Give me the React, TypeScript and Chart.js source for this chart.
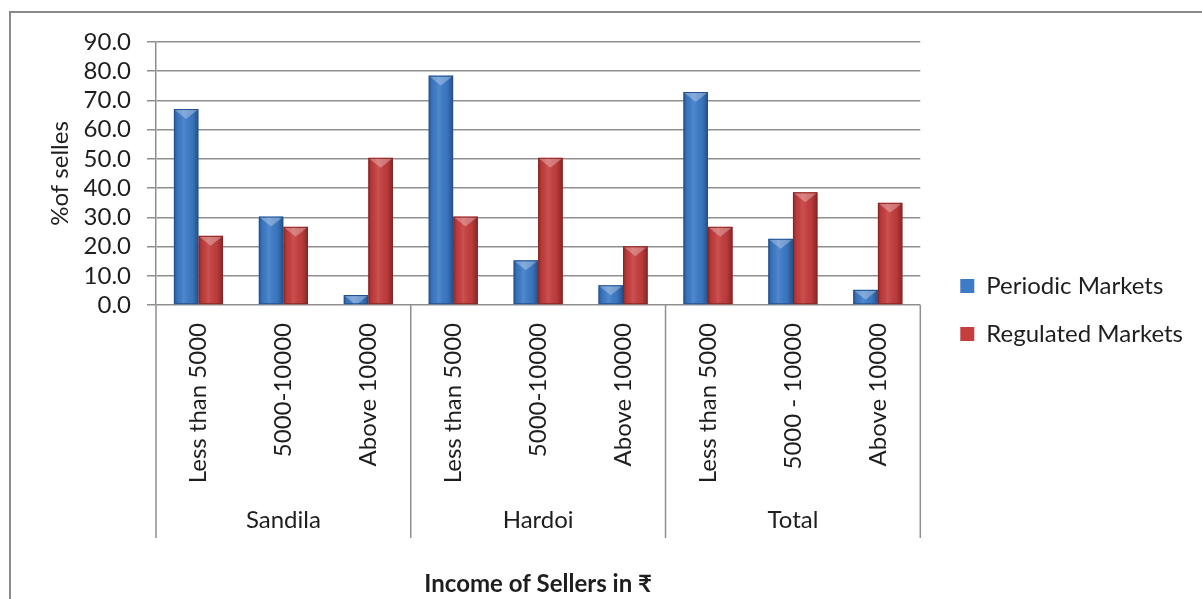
import { useEffect, useRef } from 'react';
import { Chart, registerables } from 'chart.js';

Chart.register(...registerables);

const incomeBands = [
  'Less than 5000', '5000-10000', 'Above 10000',
  'Less than 5000', '5000-10000', 'Above 10000',
  'Less than 5000', '5000 - 10000', 'Above 10000',
];
const regions = ['Sandila', 'Hardoi', 'Total'];
const periodicMarkets = [67.1, 30.3, 3.4, 78.5, 15.3, 6.8, 72.9, 22.7, 5.2];
const regulatedMarkets = [23.7, 26.8, 50.4, 30.3, 50.4, 20.1, 26.8, 38.6, 35.0];
const yMin = 0;
const yMax = 90;
const yStep = 10;

const seriesNames = ['Periodic Markets', 'Regulated Markets'];
const seriesColors = ['#3c7bc8', '#c63d3d'];
const seriesDark = ['#23508c', '#882424'];

const FONT = 'Lato, "Noto Sans", sans-serif';
const FS = 24;
const TEXT = '#1e1e1e';
const GRID = '#8f8f8f';

const framePlugin = {
  id: 'frame',
  beforeDraw(chart: any) {
    const ctx = chart.ctx;
    ctx.save();
    ctx.fillStyle = '#ffffff';
    ctx.fillRect(0, 0, chart.width, chart.height);
    ctx.strokeStyle = '#8a8a8a';
    ctx.lineWidth = 2;
    ctx.strokeRect(10, 12, chart.width + 40, chart.height + 40);
    ctx.restore();
  },
};

const barShadePlugin = {
  id: 'barShade',
  afterDatasetsDraw(chart: any) {
    const ctx = chart.ctx;
    chart.data.datasets.forEach((ds: any, di: number) => {
      const meta = chart.getDatasetMeta(di);
      meta.data.forEach((el: any) => {
        const w = el.width;
        const left = el.x - w / 2;
        const right = el.x + w / 2;
        const top = Math.min(el.y, el.base);
        const bottom = Math.max(el.y, el.base);
        const h = bottom - top;
        if (h <= 0) return;
        ctx.save();
        ctx.beginPath();
        ctx.rect(left, top, w, h);
        ctx.clip();
        const g = ctx.createLinearGradient(left, 0, right, 0);
        g.addColorStop(0, 'rgba(0,0,0,0.30)');
        g.addColorStop(0.15, 'rgba(0,0,0,0.05)');
        g.addColorStop(0.4, 'rgba(255,255,255,0.10)');
        g.addColorStop(0.75, 'rgba(0,0,0,0.05)');
        g.addColorStop(1, 'rgba(0,0,0,0.35)');
        ctx.fillStyle = g;
        ctx.fillRect(left, top, w, h);
        ctx.beginPath();
        ctx.moveTo(left + 1, top + 1);
        ctx.lineTo(right - 1, top + 1);
        ctx.lineTo(el.x, top + 10);
        ctx.closePath();
        ctx.fillStyle = 'rgba(255,255,255,0.30)';
        ctx.fill();
        ctx.strokeStyle = seriesDark[di];
        ctx.lineWidth = 1;
        ctx.strokeRect(left + 0.5, top + 0.5, w - 1, h - 1);
        ctx.restore();
      });
    });
  },
};

const groupDividerPlugin = {
  id: 'groupDividers',
  afterDraw(chart: any) {
    const xs = chart.scales.x;
    const x2 = chart.scales.x2;
    const ctx = chart.ctx;
    const n = incomeBands.length;
    const per = n / regions.length;
    ctx.save();
    ctx.strokeStyle = GRID;
    ctx.lineWidth = 1.5;
    for (let b = 0; b <= n; b += per) {
      let px;
      if (b === 0) px = xs.left;
      else if (b === n) px = xs.right;
      else px = (xs.getPixelForValue(b - 1) + xs.getPixelForValue(b)) / 2;
      ctx.beginPath();
      ctx.moveTo(px, chart.chartArea.bottom);
      ctx.lineTo(px, x2.top + 38);
      ctx.stroke();
    }
    ctx.restore();
  },
};

export default function App() {
  const ref = useRef<HTMLCanvasElement | null>(null);

  useEffect(() => {
    if (!ref.current) return;
    const chart = new Chart(ref.current, {
      type: 'bar',
      data: {
        labels: incomeBands,
        datasets: [
          {
            label: seriesNames[0],
            data: periodicMarkets,
            backgroundColor: seriesColors[0],
            borderWidth: 0,
            categoryPercentage: 0.58,
            barPercentage: 1,
          },
          {
            label: seriesNames[1],
            data: regulatedMarkets,
            backgroundColor: seriesColors[1],
            borderWidth: 0,
            categoryPercentage: 0.58,
            barPercentage: 1,
          },
        ],
      },
      options: {
        responsive: false,
        animation: false,
        layout: { padding: { top: 21, right: 9, bottom: 0, left: 0 } },
        plugins: {
          tooltip: { enabled: false },
          legend: {
            position: 'right',
            align: 'center',
            labels: {
              font: { family: FONT, size: FS },
              color: TEXT,
              boxWidth: 14,
              boxHeight: 14,
              padding: 24,
            },
          },
        },
        scales: {
          x: {
            type: 'category',
            position: 'bottom',
            weight: 0,
            offset: true,
            grid: { display: false, drawTicks: false },
            border: { display: false },
            ticks: {
              font: { family: FONT, size: FS },
              color: TEXT,
              maxRotation: 90,
              minRotation: 90,
              padding: 18,
              autoSkip: false,
            },
            afterFit: (s: any) => { s.height = 195; },
          },
          x2: {
            type: 'category',
            position: 'bottom',
            weight: 1,
            labels: regions,
            offset: true,
            grid: { display: false, drawTicks: false },
            border: { display: false },
            ticks: {
              font: { family: FONT, size: FS },
              color: TEXT,
              padding: 6,
              maxRotation: 0,
              minRotation: 0,
              autoSkip: false,
            },
            title: {
              display: true,
              text: 'Income of Sellers in ₹',
              font: { family: FONT, size: FS, weight: 'bold' },
              color: TEXT,
              padding: { top: 0, bottom: 0 },
            },
            afterFit: (s: any) => { s.height = 99; },
          },
          y: {
            type: 'linear',
            position: 'left',
            min: yMin,
            max: yMax,
            grid: { color: GRID, lineWidth: 1.5, tickLength: 9 },
            border: { display: true, color: GRID, width: 1.5 },
            ticks: {
              stepSize: yStep,
              autoSkip: false,
              font: { family: FONT, size: FS },
              color: TEXT,
              padding: 16,
              callback: (v: any) => Number(v).toFixed(1),
            },
            title: {
              display: true,
              text: '%of selles',
              font: { family: FONT, size: FS },
              color: TEXT,
              padding: { top: 46, bottom: 0 },
            },
            afterFit: (s: any) => { s.width = 156; s.paddingTop = 42; },
          },
          gap: {
            type: 'linear',
            position: 'right',
            display: false,
            afterFit: (s: any) => { s.width = 16; },
          },
        },
      },
      plugins: [framePlugin, barShadePlugin, groupDividerPlugin],
    } as any);
    return () => chart.destroy();
  }, []);

  return (
    <div style={{ position: 'fixed', left: 0, top: 0, width: 1202, height: 599, background: '#fff' }}>
      <canvas ref={ref} width={1202} height={599} style={{ width: 1202, height: 599, display: 'block' }} />
    </div>
  );
}
